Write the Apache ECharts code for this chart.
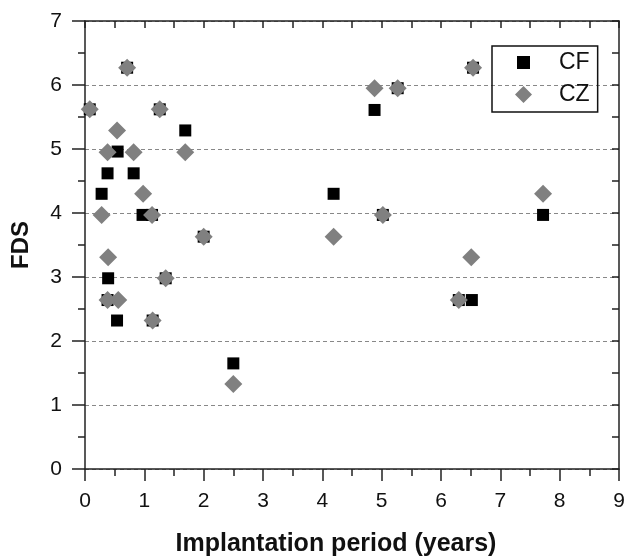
<!DOCTYPE html>
<html>
<head>
<meta charset="utf-8">
<script src="https://cdn.jsdelivr.net/npm/echarts@6/dist/echarts.min.js"></script>
<style>html,body{margin:0;padding:0;background:#fff}#c{width:625px;height:560px}</style>
</head>
<body>
<div id="c"></div>
<script>
// CF: [implantation period (years), FDS]
var cfData = [
  [0.08,5.62],[0.71,6.27],[1.26,5.62],[1.69,5.29],[0.55,4.96],[0.38,4.62],[0.82,4.62],
  [0.28,4.30],[0.97,3.97],[1.13,3.97],[2.00,3.63],[0.39,2.98],[1.36,2.98],[0.38,2.64],
  [0.54,2.32],[1.14,2.32],[2.50,1.65],[4.19,4.30],[4.88,5.61],[5.27,5.95],[6.54,6.27],
  [5.02,3.97],[7.72,3.97],[6.30,2.64],[6.52,2.64]
];
// CZ: [implantation period (years), FDS]
var czData = [
  [0.08,5.62],[0.71,6.27],[1.26,5.62],[0.54,5.29],[0.38,4.95],[0.82,4.95],[1.69,4.95],
  [0.98,4.30],[0.28,3.97],[1.13,3.97],[2.00,3.63],[0.39,3.31],[1.36,2.98],[0.38,2.64],
  [0.56,2.64],[1.14,2.32],[2.50,1.33],[4.19,3.63],[4.88,5.95],[5.27,5.95],[6.54,6.27],
  [5.02,3.97],[7.72,4.30],[6.51,3.31],[6.30,2.64]
];
var seriesNames = ['CF','CZ'];
var xTitle = 'Implantation period (years)';
var yTitle = 'FDS';

var chart = echarts.init(document.getElementById('c'), null, {renderer:'canvas'});
var font = 'Liberation Sans, Arial, sans-serif';
var axisColor = '#222';
chart.setOption({
  animation: false,
  backgroundColor: '#fff',
  textStyle: {fontFamily: font},
  grid: {left: 85, right: 6, top: 21, bottom: 91, containLabel: false, outerBoundsMode: 'none'},
  legend: {
    orient: 'vertical',
    left: 492, top: 46,
    data: [
      {name: 'CF', icon: 'path://M0,0L0.01,0.01ZM39,17L38.99,16.99ZM2,2H15V15H2Z'},
      {name: 'CZ', icon: 'path://M0,0L0.01,0.01ZM39,17L38.99,16.99ZM8.5,0L17,8.5L8.5,17L0,8.5Z'}
    ],
    itemWidth: 39, itemHeight: 17,
    itemGap: 9,
    padding: [5, 8, 6, 23],
    borderColor: '#111', borderWidth: 1.5,
    textStyle: {fontSize: 23, color: '#111', fontFamily: font}
  },
  xAxis: [{
    type: 'value', min: 0, max: 9, interval: 1,
    name: xTitle, nameLocation: 'middle', nameGap: 63,
    nameTextStyle: {fontSize: 25, fontWeight: 'bold', color: '#111', fontFamily: font, padding: [0, 32, 0, 0]},
    axisLine: {show: true, onZero: false, lineStyle: {color: axisColor, width: 1.5}},
    axisTick: {show: true, length: 12, lineStyle: {color: axisColor, width: 1.5}},
    minorTick: {show: true, splitNumber: 2, length: 7, lineStyle: {color: axisColor, width: 1.5}},
    axisLabel: {fontSize: 21, color: '#111', margin: 22, fontFamily: font},
    splitLine: {show: false}
  }, {
    type: 'value', position: 'top', min: 0, max: 9, interval: 0.5,
    axisLine: {show: true, onZero: false, lineStyle: {color: axisColor, width: 1.5}},
    axisTick: {show: true, inside: true, length: 7, lineStyle: {color: axisColor, width: 1.5}},
    axisLabel: {show: false},
    splitLine: {show: false}
  }],
  yAxis: [{
    type: 'value', min: 0, max: 7, interval: 1,
    name: yTitle, nameLocation: 'middle', nameGap: 52,
    nameTextStyle: {fontSize: 24, fontWeight: 'bold', color: '#111', fontFamily: font},
    axisLine: {show: true, onZero: false, lineStyle: {color: axisColor, width: 1.5}},
    axisTick: {show: true, length: 13, lineStyle: {color: axisColor, width: 1.5}},
    minorTick: {show: true, splitNumber: 2, length: 7, lineStyle: {color: axisColor, width: 1.5}},
    axisLabel: {fontSize: 21, color: '#111', margin: 23, fontFamily: font},
    splitLine: {show: true, lineStyle: {color: '#888', width: 1.2, type: [4, 3]}}
  }, {
    type: 'value', position: 'right', min: 0, max: 7, interval: 0.5,
    axisLine: {show: true, onZero: false, lineStyle: {color: axisColor, width: 1.5}},
    axisTick: {show: true, inside: true, length: 7, lineStyle: {color: axisColor, width: 1.5}},
    axisLabel: {show: false},
    splitLine: {show: false}
  }],
  series: [{
    name: seriesNames[0], type: 'scatter', xAxisIndex: 0, yAxisIndex: 0,
    data: cfData, symbol: 'rect', symbolSize: 12,
    itemStyle: {color: '#000', opacity: 1}
  }, {
    name: seriesNames[1], type: 'scatter', xAxisIndex: 0, yAxisIndex: 0,
    data: czData, symbol: 'diamond', symbolSize: 18,
    itemStyle: {color: '#808080', opacity: 1}
  }]
});
</script>
</body>
</html>
